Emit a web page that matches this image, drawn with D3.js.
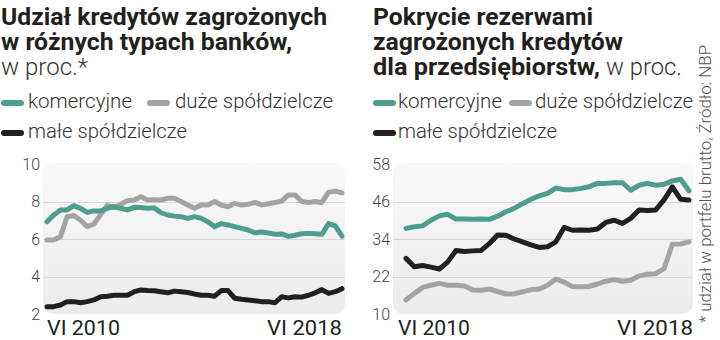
<!DOCTYPE html>
<html><head><meta charset="utf-8">
<script src="https://cdn.jsdelivr.net/npm/d3@7"></script>
<style>body{margin:0;background:#fff;}svg{display:block;}</style>
</head><body>
<svg id="c" width="720" height="340"></svg>
<script>
// ---- data ----
const seriesNames = ["komercyjne", "duże spółdzielcze", "małe spółdzielcze"];
const xTickLabels = ["VI 2010", "VI 2018"];

// Left: share of non-performing loans, %
const leftTicks = [2, 4, 6, 8, 10];
const leftKomercyjne = [6.92,7.28,7.55,7.55,7.78,7.63,7.42,7.5,7.5,7.64,7.72,7.64,7.55,7.69,7.68,7.64,7.66,7.4,7.28,7.22,7.19,7.1,7.19,7.1,6.92,6.66,6.82,6.75,6.66,6.57,6.48,6.33,6.37,6.32,6.25,6.27,6.14,6.2,6.28,6.3,6.28,6.25,6.82,6.7,6.15];
const leftDuze = [5.95,5.95,6.12,7.19,7.25,7.0,6.66,6.8,7.3,7.8,7.68,7.85,8.04,8.08,8.25,8.08,8.1,8.08,8.17,8.17,8.0,7.81,7.64,7.81,7.81,8.0,7.81,7.72,7.9,7.81,7.85,7.95,7.82,7.88,7.95,8.02,8.35,8.35,8.0,7.95,8.0,7.95,8.5,8.55,8.46];
const leftMale = [2.39,2.39,2.48,2.66,2.66,2.6,2.66,2.75,2.92,2.95,3.0,3.0,3.0,3.19,3.28,3.25,3.24,3.19,3.13,3.22,3.19,3.15,3.07,3.0,3.0,2.95,3.25,3.25,2.84,2.79,2.75,2.71,2.66,2.66,2.6,2.92,2.86,2.92,2.9,3.0,3.13,3.3,3.1,3.19,3.35];

// Right: provisions coverage, %
const rightTicks = [10, 22, 34, 46, 58];
const rightKomercyjne = [37.4,37.9,38.2,40.0,41.4,41.9,40.4,40.4,40.3,40.4,40.3,41.3,42.7,43.8,45.3,46.7,47.8,48.6,50.3,49.8,49.8,50.2,50.7,51.8,51.8,52.0,52.0,49.6,51.2,51.8,51.2,51.5,52.6,53.1,49.4];
const rightDuze = [14.5,16.6,18.5,19.2,19.8,19.2,19.2,19.0,17.7,17.6,18.0,17.2,16.4,16.5,17.1,17.8,18.0,19.2,21.2,20.2,18.8,18.7,18.8,19.6,20.5,21.0,20.5,20.8,22.2,22.7,22.9,24.5,32.3,32.4,33.1];
const rightMale = [27.8,25.1,25.5,25.0,24.4,26.6,30.3,30.0,30.2,30.3,32.5,35.3,35.2,34.0,33.1,32.1,31.3,31.5,33.1,37.7,36.8,36.9,36.8,37.2,39.3,40.0,39.0,40.6,43.3,43.1,43.3,46.5,50.7,46.7,46.5];

const colors = ["#4d9e8e", "#a3a3a3", "#231f20"];
const dark = "#231f20";

const svg = d3.select("#c");
const defs = svg.append("defs");
const grad = defs.append("linearGradient").attr("id","bg").attr("x1",0).attr("y1",0).attr("x2",0).attr("y2",1);
grad.append("stop").attr("offset","0%").attr("stop-color","#f9f9f9");
grad.append("stop").attr("offset","100%").attr("stop-color","#ececec");

const F = "Roboto, 'Liberation Sans', sans-serif";

function txt(g, s, x, y, size, weight, color, len) {
  const t = g.append("text").attr("x", x).attr("y", y).text(s)
    .attr("font-family", F).attr("font-size", size).attr("font-weight", weight).attr("fill", color);
  if (len) t.attr("textLength", len).attr("lengthAdjust", "spacingAndGlyphs");
  return t;
}

function panel(opt) {
  const g = svg.append("g");
  // titles
  opt.titles.forEach(t => txt(g, t.s, t.x, t.y, 24, t.w, t.w === 700 ? dark : "#333", t.len));
  // legend
  opt.legend.forEach((l, i) => {
    g.append("line").attr("x1", l.sx).attr("x2", l.sx + 17).attr("y1", l.y - 5).attr("y2", l.y - 5)
      .attr("stroke", colors[i]).attr("stroke-width", 6).attr("stroke-linecap", "round");
    txt(g, seriesNames[i], l.tx, l.y, 20, 300, "#333", l.len);
  });
  const y = d3.scaleLinear().domain(d3.extent(opt.ticks)).range([314, 164]);
  const n = opt.series[0].length;
  const x = d3.scaleLinear().domain([0, n - 1]).range(opt.xr);
  g.append("rect").attr("x", opt.rect[0]).attr("y", 163).attr("width", opt.rect[1] - opt.rect[0])
    .attr("height", 151).attr("rx", 10).attr("fill", "url(#bg)");
  // grid
  g.selectAll(".grid").data(opt.ticks.slice(1, -1)).join("line")
    .attr("x1", opt.rect[0]).attr("x2", opt.rect[1])
    .attr("y1", d => Math.round(y(d)) + 0.5).attr("y2", d => Math.round(y(d)) + 0.5)
    .attr("stroke", "#d8d8d8").attr("stroke-width", 1);
  // y axis labels
  const ax = d3.axisLeft(y).tickValues(opt.ticks).tickSize(0).tickPadding(0);
  const axg = g.append("g").attr("transform", `translate(${opt.labelX},0)`).call(ax);
  axg.select(".domain").remove();
  axg.selectAll("text").attr("font-family", F).attr("font-size", 16).attr("font-weight", 300).attr("fill", "#444");
  // lines
  const line = d3.line().x((d, i) => x(i)).y(d => y(d)).curve(d3.curveLinear);
  [1, 0, 2].forEach(k => {
    g.append("path").datum(opt.series[k]).attr("d", line).attr("fill", "none")
      .attr("stroke", colors[k]).attr("stroke-width", 5).attr("stroke-linejoin", "round").attr("stroke-linecap", "round");
  });
  // x labels
  txt(g, xTickLabels[0], opt.xl[0], 335, 21, 400, dark, opt.xl[1]);
  txt(g, xTickLabels[1], opt.xl[2], 335, 21, 400, dark, opt.xl[3]);
}

panel({
  titles: [
    {s: "Udział kredytów zagrożonych", x: 1, y: 25, w: 700, len: 326},
    {s: "w różnych typach banków,", x: 1, y: 50, w: 700, len: 291},
    {s: "w proc.*", x: 1, y: 75, w: 300, len: 87}
  ],
  legend: [
    {sx: 4, tx: 28, y: 108, len: 104},
    {sx: 150, tx: 175, y: 108, len: 158},
    {sx: 4, tx: 28, y: 138, len: 159}
  ],
  ticks: leftTicks,
  series: [leftKomercyjne, leftDuze, leftMale],
  rect: [43, 345], xr: [47, 342], labelX: 40,
  xl: [47, 73, 267, 75]
});

panel({
  titles: [
    {s: "Pokrycie rezerwami", x: 373, y: 25, w: 700, len: 220},
    {s: "zagrożonych kredytów", x: 373, y: 50, w: 700, len: 250},
    {s: "dla przedsiębiorstw,", x: 373, y: 75, w: 700, len: 227},
    {s: "w proc.", x: 606, y: 75, w: 300, len: 76}
  ],
  legend: [
    {sx: 376, tx: 398, y: 108, len: 104},
    {sx: 512, tx: 535, y: 108, len: 158},
    {sx: 376, tx: 398, y: 138, len: 159}
  ],
  ticks: rightTicks,
  series: [rightKomercyjne, rightDuze, rightMale],
  rect: [393, 693], xr: [406, 689], labelX: 390,
  xl: [398, 72, 617, 76]
});

// vertical note
svg.append("text").attr("transform", "translate(711,323) rotate(-90)")
  .text("* udział w portfelu brutto, Źródło: NBP")
  .attr("font-family", F).attr("font-size", 16).attr("font-weight", 300).attr("fill", "#555")
  .attr("textLength", 278).attr("lengthAdjust", "spacingAndGlyphs");
</script>
</body></html>
